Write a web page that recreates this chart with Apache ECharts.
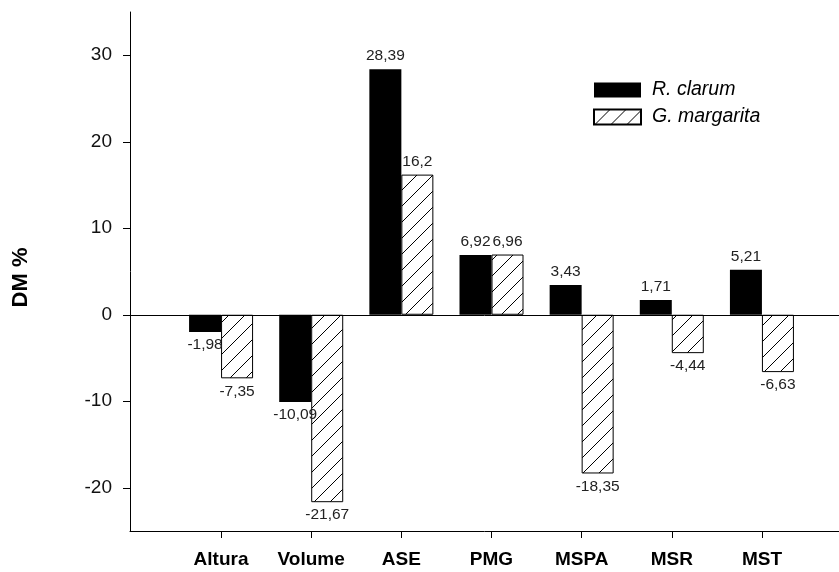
<!DOCTYPE html>
<html>
<head>
<meta charset="utf-8">
<script src="https://cdn.jsdelivr.net/npm/echarts@6/dist/echarts.min.js"></script>
<style>html,body{margin:0;padding:0;background:#fff}#c{width:839px;height:572px}</style>
</head>
<body>
<div id="c"></div>
<script>
const categories = ['Altura', 'Volume', 'ASE', 'PMG', 'MSPA', 'MSR', 'MST'];
const rClarum = [-1.98, -10.09, 28.39, 6.92, 3.43, 1.71, 5.21];
const gMargarita = [-7.35, -21.67, 16.2, 6.96, -18.35, -4.44, -6.63];
const yTicks = [-20, -10, 0, 10, 20, 30];

const FONT = 'Liberation Sans, Arial, sans-serif';

function hatch() {
  const s = 16;
  const c = document.createElement('canvas');
  c.width = s; c.height = s;
  const g = c.getContext('2d');
  g.fillStyle = '#fff'; g.fillRect(0, 0, s, s);
  g.strokeStyle = '#000'; g.lineWidth = 1;
  g.beginPath();
  g.moveTo(0, s); g.lineTo(s, 0);
  g.moveTo(-4, 4); g.lineTo(4, -4);
  g.moveTo(s - 4, s + 4); g.lineTo(s + 4, s - 4);
  g.stroke();
  return c;
}

const fmt = p => String(p.value).replace('.', ',');
const labelCfg = {
  show: true, position: 'outside', distance: 5,
  fontFamily: FONT, fontSize: 15.5, color: '#222', formatter: fmt
};

const chart = echarts.init(document.getElementById('c'), null, {renderer: 'canvas'});
chart.setOption({
  animation: false,
  backgroundColor: '#fff',
  legend: {
    orient: 'vertical', left: 593, top: 80, padding: 0,
    icon: 'rect',
    itemWidth: 47, itemHeight: 15, itemGap: 7,
    textStyle: {fontFamily: FONT, fontSize: 19.5, fontStyle: 'italic', color: '#000', padding: [0, 0, 0, 6]},
    data: ['R. clarum', 'G. margarita']
  },
  grid: [
    {left: 130, right: 0, top: 12, bottom: 41},
    {left: 176, width: 631, top: 12, bottom: 41}
  ],
  xAxis: [
    {gridIndex: 0, type: 'value', min: 0, max: 1,
     axisLine: {show: true, onZero: false, lineStyle: {color: '#000', width: 1}},
     axisTick: {show: false}, axisLabel: {show: false}, splitLine: {show: false}},
    {gridIndex: 1, type: 'category', data: categories,
     axisLine: {show: false, onZero: false},
     axisTick: {show: true, alignWithLabel: true, length: 7, lineStyle: {color: '#000'}},
     axisLabel: {fontFamily: FONT, fontSize: 19, fontWeight: 'bold', color: '#000', margin: 19},
     splitLine: {show: false}}
  ],
  yAxis: [
    {gridIndex: 0, type: 'value', min: -25, max: 35,
     name: 'DM %', nameLocation: 'middle', nameGap: 98,
     nameTextStyle: {fontFamily: FONT, fontSize: 22, fontWeight: 'bold', color: '#000', padding: [0, 12, 0, 0]},
     axisLine: {show: true, lineStyle: {color: '#000', width: 1}},
     axisTick: {show: true, length: 7, customValues: yTicks, lineStyle: {color: '#000'}},
     axisLabel: {fontFamily: FONT, fontSize: 19, color: '#111', margin: 18, customValues: yTicks},
     splitLine: {show: false}},
    {gridIndex: 1, type: 'value', min: -25, max: 35, show: false, splitLine: {show: false}}
  ],
  series: [
    {name: 'zero', type: 'line', xAxisIndex: 0, yAxisIndex: 0, data: [], silent: true,
     markLine: {silent: true, symbol: 'none', label: {show: false},
       lineStyle: {color: '#000', width: 1, type: 'solid'},
       data: [{yAxis: 0}]}},
    {name: 'R. clarum', type: 'bar', xAxisIndex: 1, yAxisIndex: 1, data: rClarum,
     barWidth: 32, barGap: '0%',
     itemStyle: {color: '#000'}, label: labelCfg},
    {name: 'G. margarita', type: 'bar', xAxisIndex: 1, yAxisIndex: 1, data: gMargarita,
     barWidth: 32, barGap: '0%',
     itemStyle: {color: {image: hatch(), repeat: 'repeat'}, borderColor: '#000', borderWidth: 1},
     label: labelCfg}
  ]
});
</script>
</body>
</html>
